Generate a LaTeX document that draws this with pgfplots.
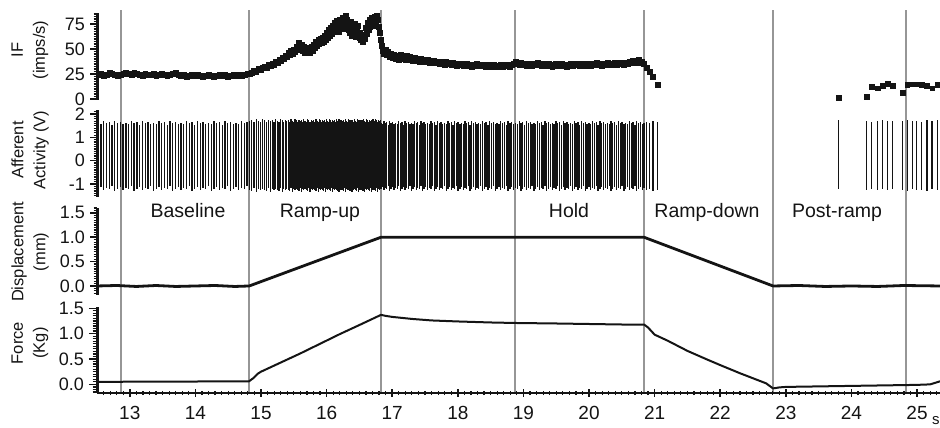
\documentclass[border=0pt]{standalone}
\usepackage{pgfplots}
\pgfplotsset{compat=1.18}
\usepackage{pgfplotstable}
\usepackage{fontspec}
\setmainfont{Liberation Sans}

\pgfplotstableread{
t f hi lo
12.520 24 1.64 -1.20
12.562 25 1.58 -1.14
12.604 23 1.70 -1.27
12.646 24 1.62 -1.18
12.688 26 1.67 -1.23
12.730 25 1.55 -1.10
12.772 24 1.72 -1.30
12.814 23 1.60 -1.20
12.856 24 1.66 -1.14
12.898 25 1.59 -1.27
12.940 26 1.64 -1.18
12.982 25 1.58 -1.23
13.024 24 1.70 -1.10
13.066 26 1.62 -1.30
13.108 25 1.67 -1.20
13.150 24 1.55 -1.14
13.192 23 1.72 -1.27
13.234 25 1.60 -1.18
13.276 24 1.66 -1.23
13.318 24 1.59 -1.10
13.360 25 1.64 -1.30
13.402 23 1.58 -1.20
13.444 24 1.70 -1.14
13.486 25 1.62 -1.27
13.528 24 1.67 -1.18
13.570 23 1.55 -1.23
13.612 24 1.72 -1.10
13.654 25 1.60 -1.30
13.696 26 1.66 -1.20
13.738 24 1.59 -1.14
13.780 23 1.64 -1.27
13.822 24 1.58 -1.18
13.864 22 1.70 -1.23
13.906 23 1.62 -1.10
13.948 24 1.67 -1.30
13.990 23 1.55 -1.20
14.032 24 1.72 -1.14
14.074 23 1.60 -1.27
14.116 22 1.66 -1.18
14.158 23 1.59 -1.23
14.200 24 1.64 -1.10
14.242 23 1.58 -1.30
14.284 22 1.70 -1.20
14.326 23 1.62 -1.14
14.368 24 1.67 -1.27
14.410 23 1.55 -1.18
14.452 24 1.72 -1.23
14.494 22 1.60 -1.10
14.536 23 1.66 -1.30
14.578 24 1.59 -1.20
14.620 23 1.64 -1.14
14.662 24 1.58 -1.27
14.704 23 1.70 -1.18
14.746 24 1.62 -1.23
14.788 25 1.67 -1.10
14.825 25 1.70 -1.24
14.860 26 1.76 -1.30
14.894 28 1.66 -1.18
14.928 27 1.80 -1.35
14.961 30 1.72 -1.22
14.993 29 1.68 -1.28
15.024 31 1.78 -1.20
15.055 32 1.74 -1.24
15.085 31 1.65 -1.30
15.115 34 1.77 -1.18
15.144 33 1.70 -1.35
15.172 35 1.76 -1.22
15.200 34 1.66 -1.28
15.226 37 1.80 -1.20
15.251 36 1.72 -1.24
15.276 39 1.68 -1.30
15.300 38 1.78 -1.18
15.324 41 1.74 -1.35
15.347 40 1.65 -1.22
15.370 43 1.77 -1.28
15.392 42 1.70 -1.20
15.414 46 1.76 -1.24
15.436 44 1.66 -1.30
15.457 48 1.80 -1.18
15.478 45 1.72 -1.35
15.499 49 1.68 -1.22
15.519 47 1.78 -1.28
15.539 52 1.74 -1.20
15.558 49 1.65 -1.24
15.577 56 1.77 -1.30
15.596 51 1.70 -1.18
15.615 54 1.76 -1.35
15.634 48 1.66 -1.22
15.653 52 1.80 -1.28
15.672 46 1.72 -1.20
15.691 51 1.68 -1.24
15.710 47 1.78 -1.30
15.729 50 1.74 -1.18
15.748 46 1.65 -1.35
15.767 52 1.77 -1.22
15.786 48 1.70 -1.28
15.803 54 1.76 -1.20
15.820 51 1.66 -1.24
15.837 57 1.80 -1.30
15.854 53 1.72 -1.18
15.871 59 1.68 -1.35
15.888 55 1.78 -1.22
15.904 60 1.74 -1.28
15.920 56 1.65 -1.20
15.936 61 1.77 -1.24
15.952 57 1.70 -1.30
15.968 63 1.76 -1.18
15.984 59 1.66 -1.35
16.000 66 1.80 -1.22
16.016 61 1.72 -1.28
16.031 69 1.68 -1.20
16.046 63 1.78 -1.24
16.061 71 1.74 -1.30
16.076 65 1.65 -1.18
16.091 73 1.77 -1.35
16.105 67 1.70 -1.22
16.119 76 1.76 -1.28
16.133 69 1.66 -1.20
16.147 78 1.80 -1.24
16.161 70 1.72 -1.30
16.175 74 1.68 -1.18
16.189 67 1.78 -1.35
16.203 79 1.74 -1.22
16.217 72 1.65 -1.28
16.231 76 1.77 -1.20
16.245 81 1.70 -1.24
16.259 70 1.76 -1.30
16.273 77 1.66 -1.18
16.287 83 1.80 -1.35
16.301 73 1.72 -1.22
16.315 79 1.68 -1.28
16.329 69 1.78 -1.20
16.343 76 1.74 -1.24
16.357 66 1.65 -1.30
16.371 77 1.77 -1.18
16.385 63 1.70 -1.35
16.399 72 1.76 -1.22
16.413 67 1.66 -1.28
16.427 75 1.80 -1.20
16.441 62 1.72 -1.24
16.455 70 1.68 -1.30
16.469 65 1.78 -1.18
16.483 73 1.74 -1.35
16.497 61 1.65 -1.22
16.511 66 1.77 -1.28
16.525 59 1.70 -1.20
16.539 63 1.76 -1.24
16.553 57 1.66 -1.30
16.567 64 1.80 -1.18
16.581 60 1.72 -1.35
16.595 71 1.68 -1.22
16.609 65 1.78 -1.28
16.623 76 1.74 -1.20
16.637 69 1.65 -1.24
16.651 79 1.77 -1.30
16.665 72 1.70 -1.18
16.679 81 1.76 -1.35
16.693 75 1.66 -1.22
16.707 80 1.80 -1.28
16.721 73 1.72 -1.20
16.735 82 1.68 -1.24
16.749 77 1.78 -1.30
16.763 83 1.74 -1.18
16.777 79 1.65 -1.35
16.791 72 1.77 -1.22
16.805 66 1.70 -1.28
16.819 59 1.76 -1.20
16.835 53 1.64 -1.20
16.855 48 1.58 -1.14
16.875 45 1.70 -1.27
16.896 49 1.62 -1.18
16.917 44 1.67 -1.23
16.938 47 1.55 -1.10
16.960 42 1.72 -1.30
16.982 45 1.60 -1.20
17.005 41 1.66 -1.14
17.029 44 1.59 -1.27
17.053 40 1.64 -1.18
17.077 43 1.58 -1.23
17.101 39 1.70 -1.10
17.125 44 1.62 -1.30
17.149 40 1.67 -1.20
17.173 42 1.55 -1.14
17.197 39 1.72 -1.27
17.221 43 1.60 -1.18
17.245 39 1.66 -1.23
17.269 42 1.59 -1.10
17.293 40 1.64 -1.30
17.317 38 1.58 -1.20
17.341 41 1.70 -1.14
17.365 38 1.62 -1.27
17.389 40 1.67 -1.18
17.413 37 1.55 -1.23
17.437 40 1.72 -1.10
17.461 38 1.60 -1.30
17.485 39 1.66 -1.20
17.511 37 1.59 -1.14
17.537 39 1.64 -1.27
17.563 36 1.58 -1.18
17.589 38 1.70 -1.23
17.615 36 1.62 -1.10
17.641 38 1.67 -1.30
17.667 36 1.55 -1.20
17.693 37 1.72 -1.14
17.719 35 1.60 -1.27
17.745 37 1.66 -1.18
17.771 36 1.59 -1.23
17.797 34 1.64 -1.10
17.823 37 1.58 -1.30
17.849 35 1.70 -1.20
17.875 36 1.62 -1.14
17.901 34 1.67 -1.27
17.927 36 1.55 -1.18
17.953 35 1.72 -1.23
17.979 33 1.60 -1.10
18.005 35 1.66 -1.30
18.031 34 1.59 -1.20
18.057 35 1.64 -1.14
18.083 33 1.58 -1.27
18.109 34 1.70 -1.18
18.135 35 1.62 -1.23
18.161 33 1.67 -1.10
18.187 34 1.55 -1.30
18.213 32 1.72 -1.20
18.239 34 1.60 -1.14
18.265 33 1.66 -1.27
18.291 35 1.59 -1.18
18.319 34 1.64 -1.23
18.347 33 1.58 -1.10
18.375 34 1.70 -1.30
18.403 33 1.62 -1.20
18.431 32 1.67 -1.14
18.459 34 1.55 -1.27
18.487 33 1.72 -1.18
18.515 32 1.60 -1.23
18.543 34 1.66 -1.10
18.571 33 1.59 -1.30
18.599 32 1.64 -1.20
18.627 33 1.58 -1.14
18.655 34 1.70 -1.27
18.683 32 1.62 -1.18
18.711 33 1.67 -1.23
18.739 34 1.55 -1.10
18.767 33 1.72 -1.30
18.795 32 1.60 -1.20
18.823 34 1.66 -1.14
18.851 35 1.59 -1.27
18.879 37 1.64 -1.18
18.907 35 1.58 -1.23
18.935 34 1.70 -1.10
18.963 36 1.62 -1.30
18.991 34 1.67 -1.20
19.019 35 1.55 -1.14
19.047 33 1.72 -1.27
19.075 35 1.60 -1.18
19.103 34 1.66 -1.23
19.131 33 1.59 -1.10
19.159 35 1.64 -1.30
19.187 34 1.58 -1.20
19.215 36 1.70 -1.14
19.243 34 1.62 -1.27
19.271 33 1.67 -1.18
19.299 35 1.55 -1.23
19.327 34 1.72 -1.10
19.355 33 1.60 -1.30
19.383 35 1.66 -1.20
19.411 34 1.59 -1.14
19.439 32 1.64 -1.27
19.467 34 1.58 -1.18
19.495 35 1.70 -1.23
19.523 33 1.62 -1.10
19.551 34 1.67 -1.30
19.579 35 1.55 -1.20
19.607 33 1.72 -1.14
19.635 34 1.60 -1.27
19.663 32 1.66 -1.18
19.691 34 1.59 -1.23
19.719 35 1.64 -1.10
19.747 33 1.58 -1.30
19.775 34 1.70 -1.20
19.803 35 1.62 -1.14
19.831 34 1.67 -1.27
19.859 33 1.55 -1.18
19.887 35 1.72 -1.23
19.915 34 1.60 -1.10
19.943 33 1.66 -1.30
19.971 35 1.59 -1.20
19.999 34 1.64 -1.14
20.027 33 1.58 -1.27
20.055 35 1.70 -1.18
20.083 34 1.62 -1.23
20.111 36 1.67 -1.10
20.139 34 1.55 -1.30
20.167 35 1.72 -1.20
20.195 33 1.60 -1.14
20.223 35 1.66 -1.27
20.251 34 1.59 -1.18
20.279 36 1.64 -1.23
20.307 35 1.58 -1.10
20.335 34 1.70 -1.30
20.363 35 1.62 -1.20
20.391 36 1.67 -1.14
20.419 34 1.55 -1.27
20.447 35 1.72 -1.18
20.475 36 1.60 -1.23
20.503 35 1.66 -1.10
20.531 34 1.59 -1.30
20.559 36 1.64 -1.20
20.587 35 1.58 -1.14
20.615 37 1.70 -1.27
20.643 36 1.62 -1.18
20.671 38 1.67 -1.23
20.699 36 1.55 -1.10
20.727 37 1.72 -1.30
20.755 39 1.60 -1.20
20.783 36 1.66 -1.14
20.811 37 1.59 -1.27
20.839 35 1.64 -1.18
20.875 31 1.68 -1.28
20.925 27 1.62 -1.20
20.975 22 1.70 -1.32
21.045 14 1.66 -1.24
23.800 1.5 1.74 -1.22
24.230 2.3 1.70 -1.24
24.310 12.3 1.68 -1.20
24.395 10.7 1.72 -1.28
24.477 13 1.75 -1.22
24.547 15.5 1.70 -1.25
24.630 13 1.72 -1.20
24.780 6.3 1.70 -1.26
24.850 14 1.74 -1.30
24.930 14.7 1.70 -1.22
24.995 14.7 1.72 -1.28
25.070 14 1.68 -1.24
25.150 13 1.74 -1.32
25.230 10.7 1.70 -1.22
25.310 14 1.73 -1.26
}\spikes

\definecolor{vline}{RGB}{150,150,150}
\definecolor{ink}{RGB}{20,20,20}

\begin{document}
\begin{tikzpicture}
\useasboundingbox (0pt,0pt) rectangle (940pt,428pt);
\pgfplotsset{
  panel/.style={
    scale only axis, width=843pt, xmin=12.5, xmax=25.35,
    anchor=south west,
    axis y line=left,
    y axis line style={-, line width=3pt, ink},
    tick align=outside,
    major tick length=7pt, minor tick length=3.4pt,
    major tick style={ink, line width=1.5pt},
    minor tick style={ink, line width=1.2pt},
    yticklabel style={font=\fontsize{18}{20}\selectfont, text=ink, inner sep=0.5pt, xshift=-4.5pt},
    clip=false,
  },
  toppanel/.style={panel, axis x line=none, xtick=\empty, minor xtick={}},
}
% gray phase lines
\begin{axis}[scale only axis, width=843pt, height=383pt, at={(97pt,35pt)}, anchor=south west,
  xmin=12.5, xmax=25.35, ymin=0, ymax=1, hide axis]
\addplot[ycomb, no markers, vline, line width=1.8pt] coordinates {
 (12.866,1) (14.817,1) (16.829,1) (18.872,1) (20.838,1) (22.805,1) (24.832,1)};
\end{axis}
% IF
\begin{axis}[toppanel, height=87pt, at={(97pt,328pt)}, ymin=-1, ymax=86,
  ytick={0,25,50,75}, yticklabels={0,25,50,75},
  minor ytick={2.5,5,...,85}]
\addplot[only marks, mark=square*, mark size=2.4pt, ink] table[x=t,y=f]{\spikes};
\end{axis}
% Afferent
\begin{axis}[toppanel, height=87pt, at={(97pt,231pt)}, ymin=-1.56, ymax=2.18,
  ytick={-1,0,1,2}, yticklabels={-1,0,1,2},
  minor ytick={-1.5,-1.4,...,2.15}]
\addplot[ycomb, no markers, ink, line width=1.3pt] table[x=t,y=hi]{\spikes};
\addplot[ycomb, no markers, ink, line width=1.3pt] table[x=t,y=lo]{\spikes};
\end{axis}
% Displacement
\begin{axis}[toppanel, height=87pt, at={(97pt,133pt)}, ymin=-0.185, ymax=1.6,
  ytick={0,0.5,1,1.5}, yticklabels={0.0,0.5,1.0,1.5},
  minor ytick={-0.15,-0.1,...,1.58}]
\addplot[ink, line width=2.8pt, line join=round] coordinates {
 (12.5,0.00) (12.8,0.01) (13.1,-0.01) (13.4,0.01) (13.7,-0.01) (14.0,0.00)
 (14.3,0.01) (14.6,-0.01) (14.82,0.00) (16.829,1.0) (18.0,1.0) (19.5,1.0)
 (20.838,1.0) (22.805,0.0) (23.2,0.01) (23.6,-0.01) (24.0,0.0) (24.4,-0.01)
 (24.8,0.01) (25.35,0.0)};
\end{axis}
% Force
\begin{axis}[panel, height=86pt, at={(97pt,35pt)}, ymin=-0.17, ymax=1.525,
  axis x line=bottom,
  x axis line style={-, line width=2pt, ink},
  xtick={13,14,15,16,17,18,19,20,21,22,23,24,25},
  xticklabels={13,14,15,16,17,18,19,20,21,22,23,24,25},
  minor xtick={12.6,12.7,12.8,12.9,13.1,13.2,13.3,13.4,13.5,13.6,13.7,13.8,13.9,
   14.1,14.2,14.3,14.4,14.5,14.6,14.7,14.8,14.9,15.1,15.2,15.3,15.4,15.5,15.6,15.7,15.8,15.9,
   16.1,16.2,16.3,16.4,16.5,16.6,16.7,16.8,16.9,17.1,17.2,17.3,17.4,17.5,17.6,17.7,17.8,17.9,
   18.1,18.2,18.3,18.4,18.5,18.6,18.7,18.8,18.9,19.1,19.2,19.3,19.4,19.5,19.6,19.7,19.8,19.9,
   20.1,20.2,20.3,20.4,20.5,20.6,20.7,20.8,20.9,21.1,21.2,21.3,21.4,21.5,21.6,21.7,21.8,21.9,
   22.1,22.2,22.3,22.4,22.5,22.6,22.7,22.8,22.9,23.1,23.2,23.3,23.4,23.5,23.6,23.7,23.8,23.9,
   24.1,24.2,24.3,24.4,24.5,24.6,24.7,24.8,24.9,25.1,25.2,25.3},
  major tick length=8pt, minor tick length=4.5pt,
  xticklabel style={font=\fontsize{19}{22}\selectfont, text=ink, yshift=-6pt},
  ytick={0,0.5,1,1.5}, yticklabels={0.0,0.5,1.0,1.5},
  minor ytick={-0.15,-0.1,...,1.5}]
\addplot[ink, line width=2pt, line join=round] coordinates {
 (12.5,0.05) (14.817,0.06) (14.88,0.12) (14.95,0.21) (15.0,0.25) (15.3,0.43)
 (15.6,0.61) (15.9,0.80) (16.2,0.99) (16.5,1.17) (16.829,1.37) (16.9,1.35)
 (17.0,1.33) (17.3,1.29) (17.6,1.26) (18.0,1.24) (18.5,1.22) (18.872,1.21)
 (19.5,1.20) (20.0,1.19) (20.5,1.18) (20.838,1.18) (20.9,1.12) (21.0,0.98)
 (21.2,0.86) (21.5,0.66) (21.8,0.49) (22.0,0.38) (22.3,0.22) (22.5,0.12)
 (22.7,0.02) (22.805,-0.08) (22.9,-0.06) (23.0,-0.05) (23.5,-0.04) (24.0,-0.03)
 (24.5,-0.02) (25.0,-0.01) (25.2,0.00) (25.3,0.04) (25.35,0.06)};
\end{axis}
% y labels
\node[rotate=90, align=center, font=\fontsize{16.5}{22}\selectfont, text=ink] at (30pt,378pt) {IF\\(imps/s)};
\node[rotate=90, align=center, font=\fontsize{16.5}{22}\selectfont, text=ink] at (30pt,278pt) {Afferent\\Activity (V)};
\node[rotate=90, align=center, font=\fontsize{16.5}{22}\selectfont, text=ink] at (30pt,176pt) {Displacement\\(mm)};
\node[rotate=90, align=center, font=\fontsize{16.5}{22}\selectfont, text=ink] at (30pt,85pt) {Force\\(Kg)};
% phase labels
\begin{scope}[every node/.style={anchor=base, font=\fontsize{19.5}{22}\selectfont, text=ink}]
\node at (188pt,210.5pt) {Baseline};
\node at (320pt,210.5pt) {Ramp-up};
\node at (569pt,210.5pt) {Hold};
\node at (707pt,210.5pt) {Ramp-down};
\node at (837pt,210.5pt) {Post-ramp};
\end{scope}
\node[anchor=base west, font=\fontsize{15}{18}\selectfont, text=ink, inner sep=0pt] at (932pt,3pt) {s};
\end{tikzpicture}
\end{document}
